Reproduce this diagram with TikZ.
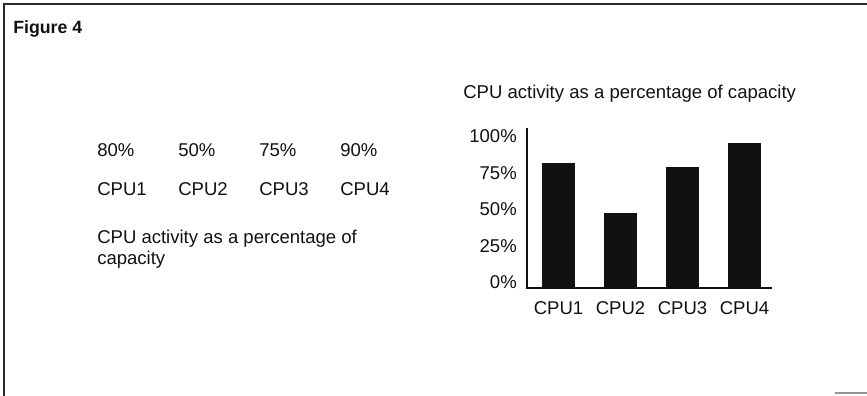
\documentclass[tikz,border=0pt]{standalone}
\usepackage{fontspec}
\setmainfont{Liberation Sans}
\usepackage{tikz}
\definecolor{ink}{HTML}{111111}
\definecolor{rule}{HTML}{2A2A2A}

\begin{document}
\begin{tikzpicture}[x=0.75pt,y=-0.75pt,
  lbl/.style={font=\fontsize{13.9}{15.75}\selectfont,inner sep=0,text=ink}]
  \useasboundingbox (0,0) rectangle (867,396);
  % page frame
  \draw[rule,line width=1.5pt] (4,396) -- (4,4) -- (867,4);
  \draw[rule!50,line width=1pt] (835,393) -- (867,393);

  \node[anchor=base west,font=\fontsize{13.3}{16}\selectfont\bfseries,inner sep=0,text=ink] (fig) at (13,33) {Figure 4};

  % values as a table
  \foreach \x/\v [count=\i] in {97/80,178/50,259/75,340/90} {
    \node[lbl,anchor=base west] (val\i) at (\x,156) {\v\%};
    \node[lbl,anchor=base west] (cpu\i) at (\x,195) {CPU\i};
  }
  \node[lbl,anchor=north west,align=left] (cap) at (97,230) {CPU activity as a percentage of\\capacity};

  % same values as a bar chart
  \node[lbl,anchor=base west] (title) at (463,98) {CPU activity as a percentage of capacity};
  \foreach \p/\y in {0/282,25/246,50/209,75/173,100/136}
    \node[lbl,anchor=east] (tick\p) at (517,\y) {\p\%};
  \draw[ink,line width=1.5pt] (527,128) -- (527,288) -- (772,288);
  \foreach \x/\top [count=\i] in {542/163,604/213,666/167,728/143} {
    \fill[ink] (\x,288) rectangle (\x+33,\top);
    \node[lbl,anchor=base] (bar\i) at (\x+16.5,314) {CPU\i};
  }
\end{tikzpicture}
\end{document}
